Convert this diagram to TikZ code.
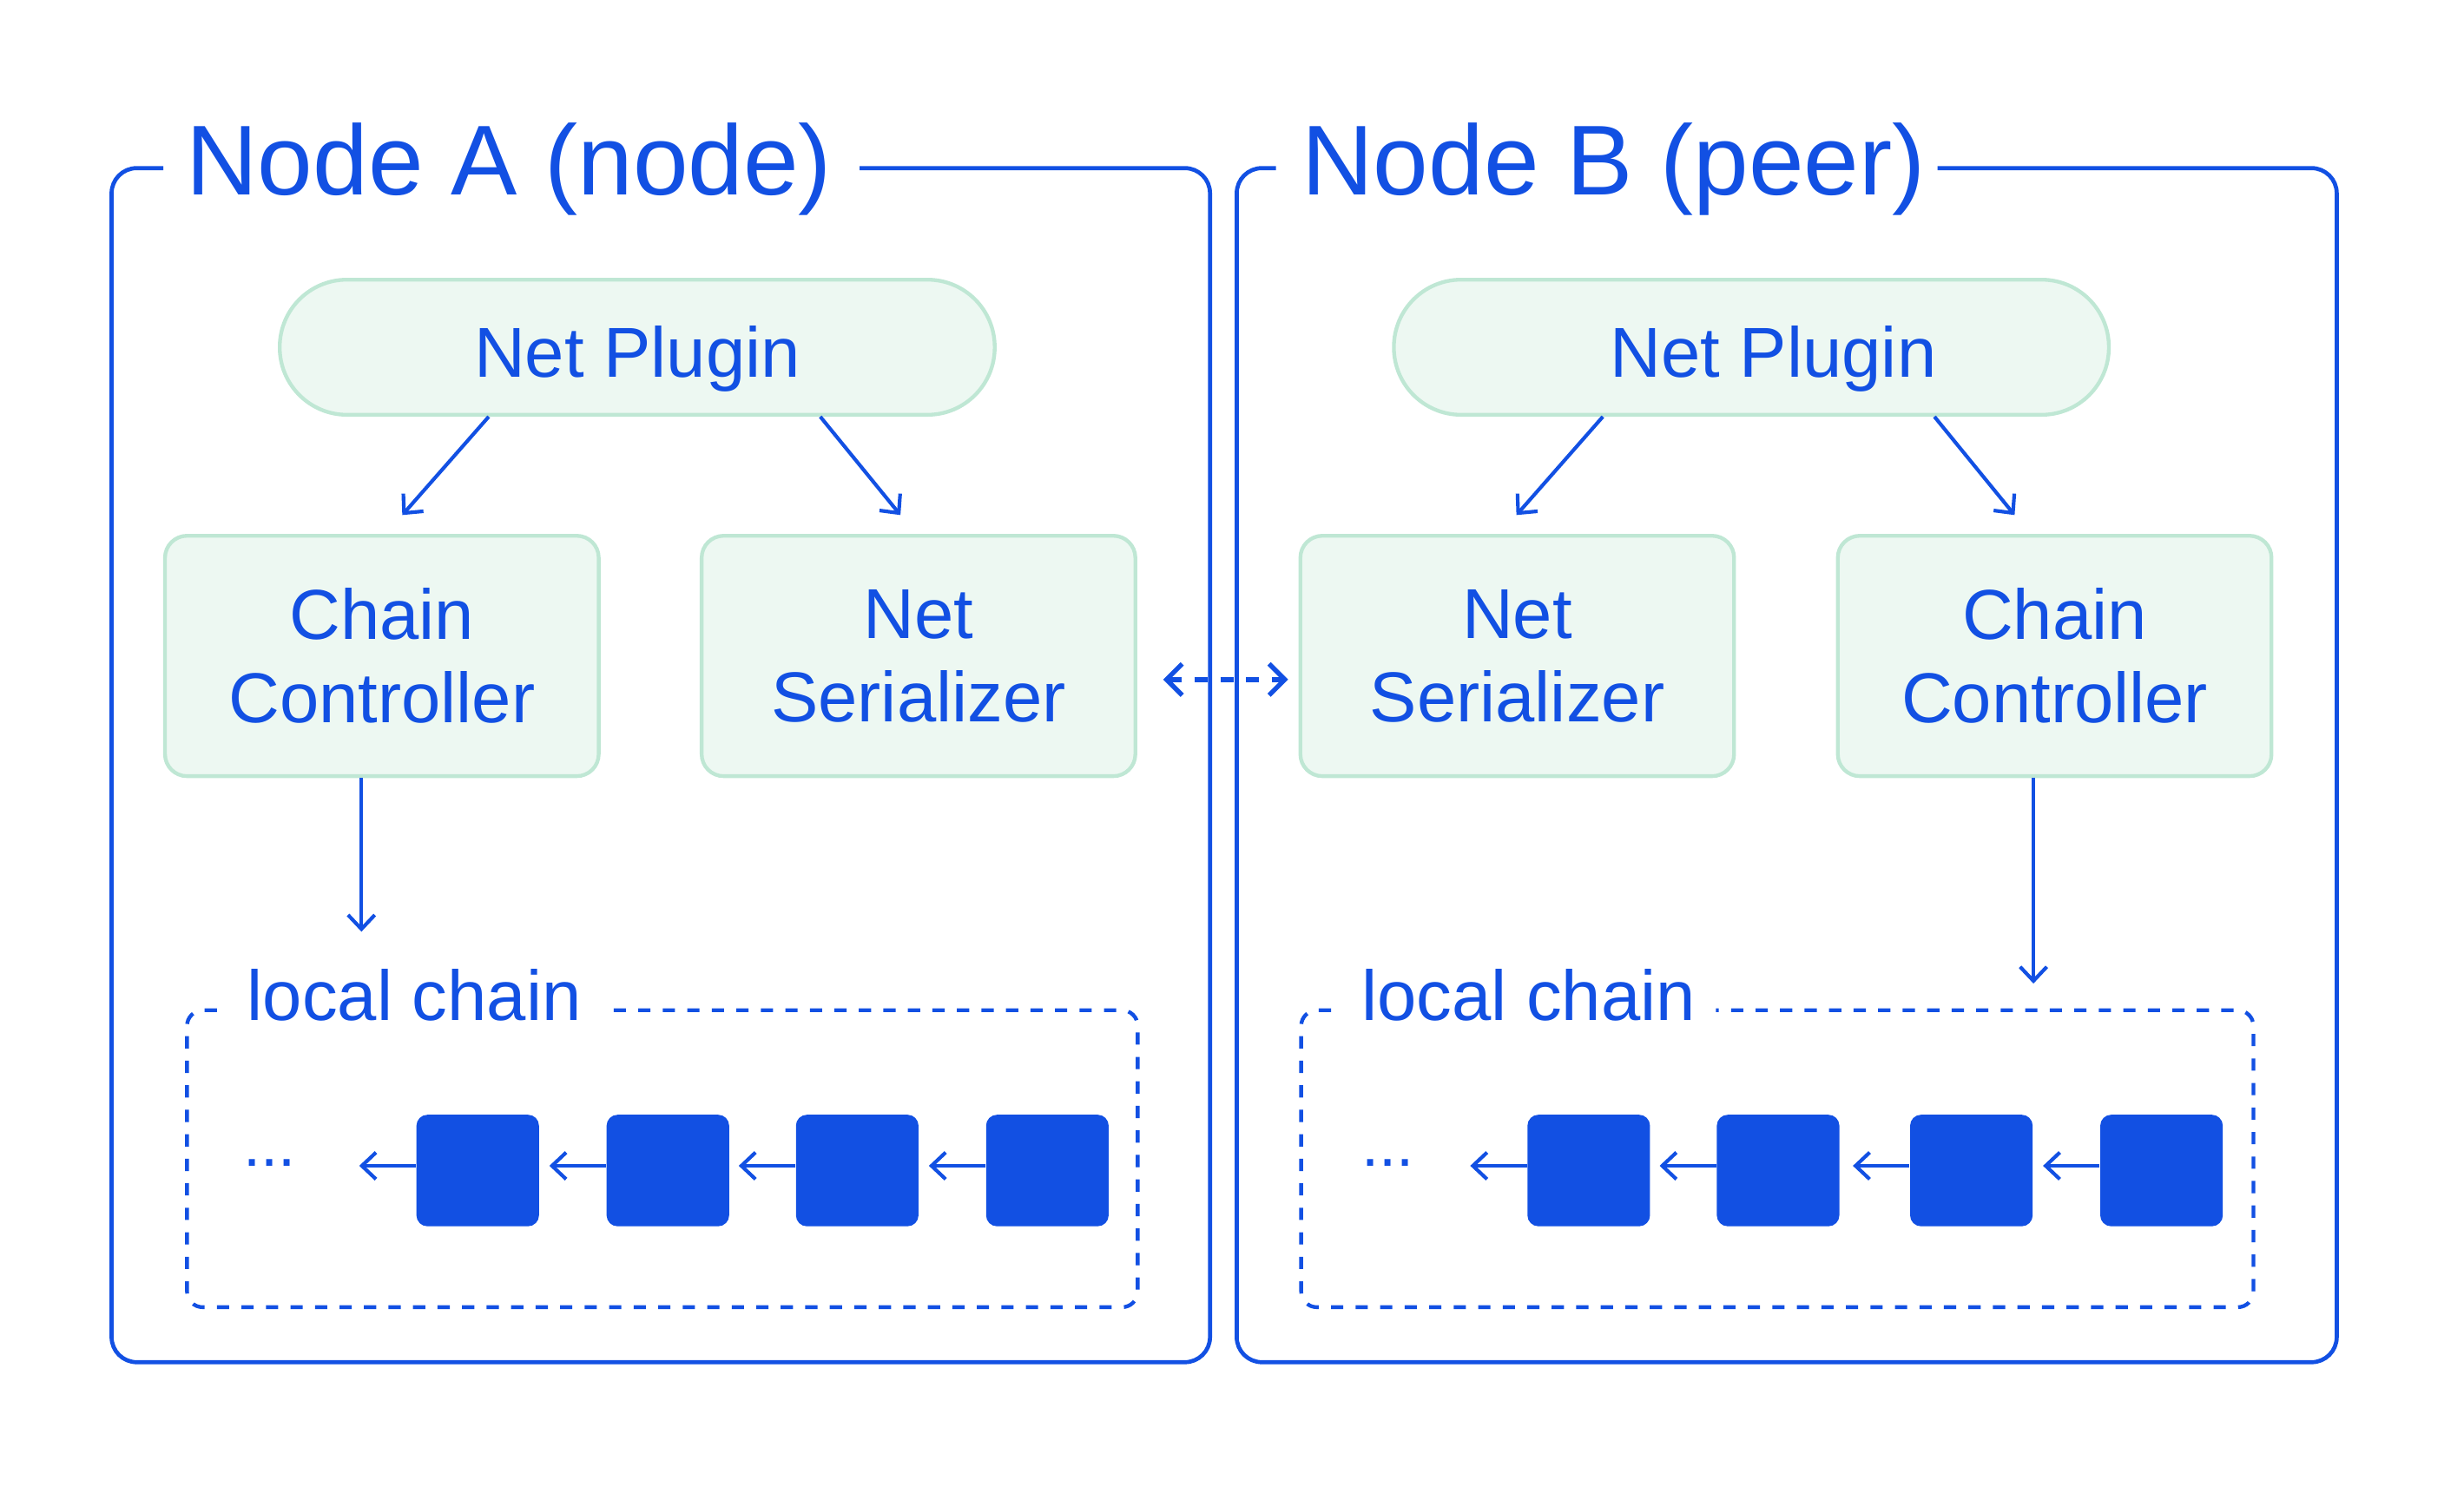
\documentclass[tikz,border=0pt]{standalone}
\usepackage{fontspec}
\setmainfont{Liberation Sans}
\usetikzlibrary{arrows.meta,calc}
\definecolor{cblue}{HTML}{1250E3}
\definecolor{gfill}{HTML}{EDF8F2}
\definecolor{gline}{HTML}{BFE7D4}
\newcommand{\myLabFont}{\fontsize{22.5}{26.5}\selectfont}
\newcommand{\myTitleFont}{\fontsize{31.6}{36}\selectfont}
\newcommand{\myDotFont}{\fontsize{20}{24}\selectfont}
\begin{document}
\begin{tikzpicture}[x=0.5pt,y=-0.5pt,
  frame/.style={draw=cblue,line width=1.3pt,rounded corners=8pt},
  lchain/.style={draw=cblue,line width=1.2pt,dash pattern=on 3.9pt off 3.9pt,rounded corners=5pt},
  pill/.style={draw=gline,fill=gfill,line width=1.2pt,rounded corners=21.4pt,minimum width=227.5pt,minimum height=43pt,inner sep=0pt,text=cblue,font=\myLabFont,text height=19pt,text depth=0pt},
  comp/.style={draw=gline,fill=gfill,line width=1.2pt,rounded corners=7pt,minimum width=138pt,minimum height=76.5pt,inner sep=0pt,text=cblue,font=\myLabFont,align=center},
  blk/.style={fill=cblue,rounded corners=3.5pt,minimum width=39pt,minimum height=35.5pt,inner sep=0pt},
  arr/.style={draw=cblue,line width=1.15pt,-{Straight Barb[length=4.5pt,width=8.5pt]}},
  darr/.style={draw=cblue,line width=1.5pt,dash pattern=on 4.1pt off 4.1pt,{Straight Barb[length=5pt,width=10pt]}-{Straight Barb[length=5pt,width=10pt]}},
  ttl/.style={anchor=base west,inner sep=0pt,text=cblue,font=\myTitleFont},
  lbl/.style={anchor=base west,inner sep=0pt,text=cblue,font=\myLabFont},
  dots/.style={anchor=base west,inner sep=0pt,text=cblue,font=\myDotFont}]
\useasboundingbox (0,0) rectangle (1568,954.7);

% ---------- Node A ----------
\node[ttl] (titleA) at (118,124) {Node A (node)};
\draw[frame] (104,107) -- (71,107) -- (71,867) -- (770,867) -- (770,107) -- (547,107);

\node[pill] (npA) at (405.5,221) {Net Plugin};
\node[comp] (ccA) at (243,417.5) {Chain\\Controller};
\node[comp] (nsA) at (584.5,417.5) {Net\\Serializer};

\draw[arr] ([xshift=-47.25pt]npA.south) -- ([xshift=6.5pt,yshift=6pt]ccA.north);
\draw[arr] ([xshift=58.25pt]npA.south) -- ([xshift=-5.75pt,yshift=6pt]nsA.north);

\coordinate (endA) at (230,593);
\draw[arr] ([xshift=-6.5pt]ccA.south) -- (endA);

\node[lbl] (lcA) at (157,649.5) {local chain};
\draw[lchain] (138,643) -- (119,643) -- (119,832) -- (724,832) -- (724,643) -- (383,643);

\node[dots] (dotsA) at (154.3,742) {...};
\node[blk] (a1) at (304,745) {};
\node[blk] (a2) at (425,745) {};
\node[blk] (a3) at (545.5,745) {};
\node[blk] (a4) at (666.5,745) {};
\draw[arr] ([yshift=1.5pt]a1.west) -- ++(-36,0);
\draw[arr] ([yshift=1.5pt]a2.west) -- ++(-36,0);
\draw[arr] ([yshift=1.5pt]a3.west) -- ++(-36,0);
\draw[arr] ([yshift=1.5pt]a4.west) -- ++(-36,0);

% ---------- Node B ----------
\node[ttl] (titleB) at (828,124) {Node B (peer)};
\draw[frame] (812,107) -- (787,107) -- (787,867) -- (1487,867) -- (1487,107) -- (1233,107);

\node[pill] (npB) at (1114.5,221) {\hspace*{14pt}Net Plugin};
\node[comp] (nsB) at (965.5,417.5) {Net\\Serializer};
\node[comp] (ccB) at (1307.5,417.5) {Chain\\Controller};

\draw[arr] ([xshift=-47.25pt]npB.south) -- ([xshift=-0.25pt,yshift=6pt]nsB.north);
\draw[arr] ([xshift=58.25pt]npB.south) -- ([xshift=-12.75pt,yshift=6pt]ccB.north);

\coordinate (endB) at (1294,626);
\draw[arr] ([xshift=-6.75pt]ccB.south) -- (endB);

\node[lbl] (lcB) at (866,649.5) {local chain};
\draw[lchain] (847,643) -- (828,643) -- (828,832) -- (1434,832) -- (1434,643) -- (1092,643);

\node[dots] (dotsB) at (866.3,742) {...};
\node[blk] (b1) at (1011,745) {};
\node[blk] (b2) at (1131.5,745) {};
\node[blk] (b3) at (1254.5,745) {};
\node[blk] (b4) at (1375.5,745) {};
\draw[arr] ([yshift=1.5pt]b1.west) -- ++(-36,0);
\draw[arr] ([yshift=1.5pt]b2.west) -- ++(-36,0);
\draw[arr] ([yshift=1.5pt]b3.west) -- ++(-36,0);
\draw[arr] ([yshift=1.5pt]b4.west) -- ++(-36,0);

% ---------- link between serializers ----------
\draw[darr] ([xshift=8.25pt,yshift=-7.5pt]nsA.east) -- ([xshift=-3.3pt,yshift=-7.5pt]nsB.west);
\end{tikzpicture}
\end{document}
